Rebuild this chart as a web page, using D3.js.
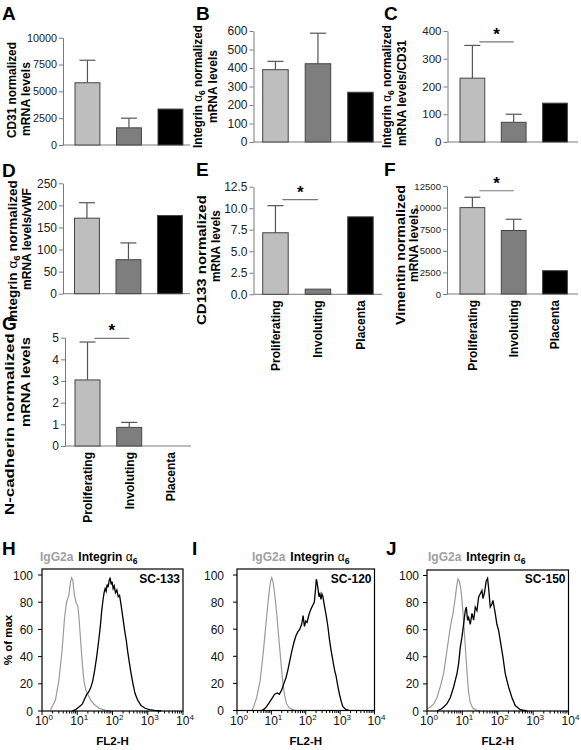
<!DOCTYPE html>
<html><head><meta charset="utf-8">
<script src="https://cdn.jsdelivr.net/npm/d3@7"></script>
<style>
body{margin:0;background:#fff}
svg{display:block}
text{font-family:"Liberation Sans",Arial,Helvetica,sans-serif}
</style>
</head><body>
<svg id="c" width="581" height="750"></svg>
<script>
// ---------- DATA ----------
const categories = ["Proliferating", "Involuting", "Placenta"];

const cd31Mean = [5800, 1600, 3350];   const cd31Err = [2100, 900, 0];
const itgMean = [391, 423, 269];       const itgErr = [45, 165, 0];
const itgCd31Mean = [230, 71, 140];    const itgCd31Err = [118, 29, 0];
const itgVwfMean = [171, 77, 177];     const itgVwfErr = [35, 38, 0];
const cd133Mean = [7.15, 0.6, 9.0];    const cd133Err = [3.15, 0, 0];
const vimMean = [10000, 7350, 2700];   const vimErr = [1200, 1300, 0];
const ncadMean = [3.05, 0.86, 0];      const ncadErr = [1.75, 0.23, 0];

const ticksA = [0, 2500, 5000, 7500, 10000];
const ticksB = [0, 100, 200, 300, 400, 500, 600];
const ticksC = [0, 100, 200, 300, 400];
const ticksD = [0, 50, 100, 150, 200, 250];
const ticksE = [0, 2.5, 5.0, 7.5, 10.0, 12.5];
const ticksF = [0, 2500, 5000, 7500, 10000, 12500];
const ticksG = [0, 1, 2, 3, 4, 5];

// significance bracket heights (data units) for Proliferating vs Involuting
const sigC = 361, sigE = 11.0, sigF = 11950, sigG = 4.97;

// Flow cytometry histograms: log10(FL2-H) and % of max
const flowTicksY = [0, 20, 40, 60, 80, 100];
const flowDecades = [0, 1, 2, 3, 4];

const hGrayLog = [0.238,0.381,0.476,0.571,0.638,0.695,0.762,0.810,0.838,0.876,0.914,0.962,1.019,1.057,1.095,1.143,1.190,1.248,1.305,1.381,1.476,1.619,1.810,1.952];
const hGrayPct = [0.5,8,22,45,68,80,85,95,98,96,86,80,77,66,52,35,22,15,12,8,5,2,0.5,0];
const hBlackLog = [0.857,0.952,1.048,1.143,1.210,1.267,1.324,1.381,1.438,1.495,1.552,1.610,1.657,1.695,1.733,1.762,1.790,1.819,1.848,1.876,1.905,1.933,1.962,1.990,2.019,2.048,2.086,2.124,2.162,2.200,2.238,2.276,2.314,2.352,2.390,2.429,2.476,2.524,2.581,2.638,2.714,2.810,2.924,3.048,3.190,3.381];
const hBlackPct = [0,1,3,5,9,12,14,17,22,30,40,52,63,74,82,87,90,88,93,91,96,98,93,95,90,92,87,89,84,85,79,72,65,58,52,44,36,28,20,13,8,4,2,1,0.5,0];

const iGrayLog = [0.433,0.481,0.577,0.673,0.769,0.846,0.904,0.942,0.981,1.010,1.048,1.096,1.154,1.212,1.269,1.327,1.385,1.442,1.519,1.635,1.731];
const iGrayPct = [0,2.5,10,22,44,65,80,89,96,98,95,86,72,55,38,22,11,5,2,0.5,0];
const iBlackLog = [0.721,0.788,0.865,0.942,1.019,1.096,1.173,1.231,1.298,1.365,1.423,1.481,1.538,1.596,1.654,1.712,1.769,1.827,1.885,1.923,1.962,2.000,2.038,2.096,2.154,2.212,2.250,2.279,2.308,2.327,2.356,2.385,2.413,2.442,2.471,2.500,2.538,2.596,2.644,2.692,2.740,2.788,2.837,2.885,2.933,2.981,3.029,3.077,3.154,3.269];
const iBlackPct = [0,1,3,6,9,12,13,12,15,20,24,30,37,44,50,55,58,60,64,70,62,66,65,71,75,78,80,88,97,95,90,84,86,82,86,84,78,70,62,52,44,37,30,25,18,12,7,3,1,0];

const jGrayLog = [0,0.094,0.188,0.282,0.376,0.471,0.565,0.659,0.734,0.791,0.838,0.875,0.913,0.951,0.988,1.026,1.064,1.101,1.139,1.176,1.224,1.299,1.412,1.506];
const jGrayPct = [1.7,3,5,10,18,28,45,62,72,82,92,97.5,96,91,82,70,55,40,26,14,6,2,0.5,0];
const jBlackLog = [0.282,0.376,0.471,0.565,0.659,0.753,0.847,0.894,0.941,0.988,1.035,1.082,1.111,1.148,1.176,1.224,1.271,1.318,1.365,1.412,1.459,1.506,1.553,1.581,1.619,1.675,1.713,1.741,1.788,1.835,1.864,1.929,1.976,2.024,2.071,2.146,2.212,2.306,2.400,2.494,2.635,2.824];
const jBlackPct = [0,1,3,5.4,10,17.7,27.5,35,47,54.5,64,74,76.7,67,69,64,72,67,76.7,74,84,86.5,89,83,86.5,96,98,91,76.7,79,81.6,72,64,59.5,52,40,27.5,17.7,10,4,1,0];

// ---------- DRAWING ----------
const svg = d3.select("#c");
const barFill = ["#bebebe", "#7e7e7e", "#000000"];
const axisCol = "#7a7a7a";

function panelLetter(t, x, y) {
  svg.append("text").attr("x", x).attr("y", y).attr("font-size", 19).attr("font-weight", "bold").text(t);
}

function addTitleLine(sel, parts) {
  parts.forEach(p => {
    const ts = sel.append("tspan").text(p.t);
    if (p.alpha) ts.attr("font-weight", "normal");
    if (p.sub) ts.attr("font-size", "0.72em").attr("dy", 3);
    if (p.back) ts.attr("dy", -3);
  });
}

// rotated title fitted between yTop and yBot (text runs bottom->top)
function rotTitle(g, parts, tx, yTop, yBot, fs) {
  const t = g.append("text").attr("font-size", fs).attr("font-weight", "bold").attr("text-anchor", "start");
  addTitleLine(t, parts);
  const L = t.node().getComputedTextLength();
  const sx = (yBot - yTop) / L;
  t.attr("transform", `translate(${tx},${yBot}) rotate(-90) scale(${sx},1)`);
}

function barPanel(cfg) {
  const g = svg.append("g");
  const y = d3.scaleLinear().domain([0, cfg.max]).range([cfg.y0, cfg.yTop]);
  const s = cfg.step;
  const x = d3.scaleBand().domain(categories)
    .range([cfg.bx - 0.2 * s, cfg.bx + 2.8 * s]).paddingInner(0.4).paddingOuter(0.2);

  // y axis
  const ax = g.append("g").attr("transform", `translate(${cfg.x0},0)`)
    .call(d3.axisLeft(y).tickValues(cfg.ticks).tickSize(4).tickSizeOuter(0).tickPadding(2)
      .tickFormat(cfg.fmt || d3.format("d")));
  ax.select(".domain").attr("stroke", axisCol);
  ax.selectAll(".tick line").attr("stroke", axisCol);
  ax.selectAll(".tick text").attr("font-size", cfg.tickFs || 12).attr("fill", "#222")
    .attr("font-family", '"Liberation Sans",Arial,sans-serif');

  // x axis line
  g.append("line").attr("x1", cfg.x0).attr("x2", cfg.xEnd).attr("y1", cfg.y0).attr("y2", cfg.y0)
    .attr("stroke", axisCol).attr("stroke-width", 1);

  // bars
  const rows = categories.map((c, i) => ({ c, v: cfg.mean[i], e: cfg.err[i], i }));
  g.selectAll("rect.bar").data(rows.filter(d => d.v > 0)).join("rect")
    .attr("x", d => x(d.c)).attr("width", x.bandwidth())
    .attr("y", d => y(d.v)).attr("height", d => y(0) - y(d.v))
    .attr("fill", d => barFill[d.i]).attr("stroke", "#444").attr("stroke-width", 1);

  // error bars (upper)
  const eb = rows.filter(d => d.e > 0);
  g.selectAll("line.err").data(eb).join("line")
    .attr("x1", d => x(d.c) + x.bandwidth() / 2).attr("x2", d => x(d.c) + x.bandwidth() / 2)
    .attr("y1", d => y(d.v)).attr("y2", d => y(d.v + d.e))
    .attr("stroke", "#555").attr("stroke-width", 1.2);
  g.selectAll("line.cap").data(eb).join("line")
    .attr("x1", d => x(d.c) + x.bandwidth() / 2 - 8).attr("x2", d => x(d.c) + x.bandwidth() / 2 + 8)
    .attr("y1", d => y(d.v + d.e)).attr("y2", d => y(d.v + d.e))
    .attr("stroke", "#555").attr("stroke-width", 1.2);

  // significance
  if (cfg.sig !== undefined) {
    const xa = x(categories[0]) + x.bandwidth() / 2 + 7;
    const xb = x(categories[1]) + x.bandwidth() / 2;
    g.append("line").attr("x1", xa).attr("x2", xb).attr("y1", y(cfg.sig)).attr("y2", y(cfg.sig))
      .attr("stroke", "#777").attr("stroke-width", 1.2);
    g.append("text").attr("x", (xa + xb) / 2).attr("y", y(cfg.sig) - 2).attr("text-anchor", "middle")
      .attr("font-size", 17).attr("font-weight", "bold").text("*");
  }

  // category labels
  if (cfg.labels) {
    categories.forEach(c => {
      g.append("text")
        .attr("transform", `translate(${x(c) + x.bandwidth() / 2 + 4.5},${cfg.y0 + 6}) rotate(-90)`)
        .attr("text-anchor", "end").attr("font-size", 12).attr("font-weight", "bold").text(c);
    });
  }

  // y title (two lines), each fitted to measured extent
  cfg.title.forEach((line, k) => {
    rotTitle(g, line, cfg.tx[k], cfg.tspan[k][0], cfg.tspan[k][1], 12);
  });
}

const itgTitle = [{ t: "Integrin " }, { t: "α", alpha: true }, { t: "6", sub: true }, { t: " normalized", back: true }];

panelLetter("A", 2, 20);
barPanel({ x0: 63, xEnd: 190, y0: 145, yTop: 37.7, max: 10000, ticks: ticksA, bx: 75, step: 41.5, tickFs: 10.8,
  mean: cd31Mean, err: cd31Err,
  title: [[{ t: "CD31 normalized" }], [{ t: "mRNA levels" }]], tx: [15.5, 30], tspan: [[42, 138], [62, 136]] });

panelLetter("B", 196, 20);
barPanel({ x0: 253.5, xEnd: 382, y0: 142, yTop: 31, max: 600, ticks: ticksB, bx: 262.7, step: 42.5,
  mean: itgMean, err: itgErr,
  title: [itgTitle, [{ t: "mRNA levels" }]], tx: [201.5, 216.5], tspan: [[25, 148], [50, 123]] });

panelLetter("C", 384, 20);
barPanel({ x0: 447.5, xEnd: 578, y0: 142, yTop: 31, max: 400, ticks: ticksC, bx: 460, step: 41.3, tickFs: 11.5,
  mean: itgCd31Mean, err: itgCd31Err, sig: sigC,
  title: [itgTitle, [{ t: "mRNA levels/CD31" }]], tx: [390.5, 405.5], tspan: [[25, 148], [40, 146]] });

panelLetter("D", 2, 177);
barPanel({ x0: 63, xEnd: 190, y0: 293.7, yTop: 183.3, max: 250, ticks: ticksD, bx: 74.5, step: 41.5,
  mean: itgVwfMean, err: itgVwfErr,
  title: [itgTitle, [{ t: "mRNA levels/vWF" }]], tx: [17, 30.5], tspan: [[180, 322], [188, 290]] });

panelLetter("E", 196, 176);
barPanel({ x0: 253.5, xEnd: 382, y0: 294.3, yTop: 186.7, max: 12.5, ticks: ticksE, bx: 262.7, step: 42.5,
  mean: cd133Mean, err: cd133Err, sig: sigE, fmt: d3.format(".1f"), labels: true,
  title: [[{ t: "CD133 normalized" }], [{ t: "mRNA levels" }]], tx: [205.5, 220], tspan: [[195, 325], [210, 282]] });

panelLetter("F", 384, 176);
barPanel({ x0: 447, xEnd: 578, y0: 294, yTop: 186, max: 12500, ticks: ticksF, bx: 460, step: 41.3, tickFs: 9.6,
  mean: vimMean, err: vimErr, sig: sigF, labels: true,
  title: [[{ t: "Vimentin normalized" }], [{ t: "mRNA levels" }]], tx: [404.5, 417.5], tspan: [[185, 325], [208, 282]] });

panelLetter("G", 2, 330);
barPanel({ x0: 65, xEnd: 191, y0: 446, yTop: 337.7, max: 5, ticks: ticksG, bx: 75, step: 41.7,
  mean: ncadMean, err: ncadErr, sig: sigG, labels: true,
  title: [[{ t: "N-cadherin normalized" }], [{ t: "mRNA levels" }]], tx: [13.5, 30], tspan: [[333, 515], [337, 427]] });

// ---------- FLOW PANELS ----------
function flowPanel(cfg) {
  const g = svg.append("g");
  const x = d3.scaleLinear().domain([0, 4]).range([cfg.x0, cfg.x1]);
  const y = d3.scaleLinear().domain([0, 100]).range([cfg.yb, cfg.y100]);

  const line = d3.line().x(d => x(d[0])).y(d => y(d[1]));
  const gray = cfg.grayLog.map((v, i) => [v, cfg.grayPct[i]]);
  const black = cfg.blackLog.map((v, i) => [v, cfg.blackPct[i]]);
  g.append("path").attr("d", line(gray)).attr("fill", "none").attr("stroke", "#9b9b9b").attr("stroke-width", 1.2);
  g.append("path").attr("d", line(black)).attr("fill", "none").attr("stroke", "#000").attr("stroke-width", 1.3);

  g.append("rect").attr("x", cfg.x0).attr("y", cfg.yt).attr("width", cfg.x1 - cfg.x0).attr("height", cfg.yb - cfg.yt)
    .attr("fill", "none").attr("stroke", "#000").attr("stroke-width", 1.2);

  flowTicksY.forEach(v => {
    g.append("line").attr("x1", cfg.x0 - 4).attr("x2", cfg.x0).attr("y1", y(v)).attr("y2", y(v)).attr("stroke", "#000");
    g.append("text").attr("x", cfg.x0 - cfg.lpad).attr("y", y(v) + 4.5).attr("text-anchor", "end")
      .attr("font-size", 12).attr("fill", "#111").text(v);
  });
  flowDecades.forEach(d => {
    g.append("line").attr("x1", x(d)).attr("x2", x(d)).attr("y1", cfg.yb).attr("y2", cfg.yb + 4).attr("stroke", "#000");
    const t = g.append("text").attr("x", x(d) + 2).attr("y", cfg.yb + 14).attr("text-anchor", "middle")
      .attr("font-size", 12).attr("fill", "#111");
    t.append("tspan").text("10");
    t.append("tspan").attr("font-size", 8).attr("dy", -5).text(d);
    if (d < 4) {
      for (let k = 2; k <= 9; k++) {
        const xv = x(d + Math.log10(k));
        g.append("line").attr("x1", xv).attr("x2", xv).attr("y1", cfg.yb).attr("y2", cfg.yb + 2.5).attr("stroke", "#000");
      }
    }
  });
  g.append("text").attr("x", (cfg.x0 + cfg.x1) / 2).attr("y", cfg.yb + 34).attr("text-anchor", "middle")
    .attr("font-size", 11.5).attr("font-weight", "bold").text("FL2-H");

  const lg = g.append("text").attr("x", cfg.legX).attr("y", 561).attr("font-size", 12).attr("font-weight", "bold");
  lg.append("tspan").attr("fill", "#a0a0a0").text("IgG2a");
  lg.append("tspan").attr("fill", "#000").attr("dx", 5).text("Integrin ");
  lg.append("tspan").attr("fill", "#000").attr("font-weight", "normal").text("α");
  lg.append("tspan").attr("fill", "#000").attr("font-size", 8.5).attr("dy", 3).text("6");

  g.append("text").attr("x", cfg.x1 - 3).attr("y", 583).attr("text-anchor", "end")
    .attr("font-size", 12).attr("font-weight", "bold").text(cfg.sample);

  if (cfg.ytitle) {
    g.append("text").attr("transform", `translate(12,${(cfg.yt + cfg.yb) / 2}) rotate(-90)`)
      .attr("text-anchor", "middle").attr("font-size", 11.5).attr("font-weight", "bold").text("% of max");
  }
  panelLetter(cfg.letter, cfg.lx, 555);
}

flowPanel({ letter: "H", lx: 2, x0: 42, x1: 183, yt: 569, yb: 711, y100: 575, lpad: 9, legX: 40,
  grayLog: hGrayLog, grayPct: hGrayPct, blackLog: hBlackLog, blackPct: hBlackPct, sample: "SC-133", ytitle: true });
flowPanel({ letter: "I", lx: 192, x0: 237, x1: 374.5, yt: 569, yb: 710.5, y100: 575, lpad: 13, legX: 252,
  grayLog: iGrayLog, grayPct: iGrayPct, blackLog: iBlackLog, blackPct: iBlackPct, sample: "SC-120" });
flowPanel({ letter: "J", lx: 386, x0: 427, x1: 568.5, yt: 570, yb: 711, y100: 575.5, lpad: 8, legX: 428,
  grayLog: jGrayLog, grayPct: jGrayPct, blackLog: jBlackLog, blackPct: jBlackPct, sample: "SC-150" });
</script>
</body></html>
